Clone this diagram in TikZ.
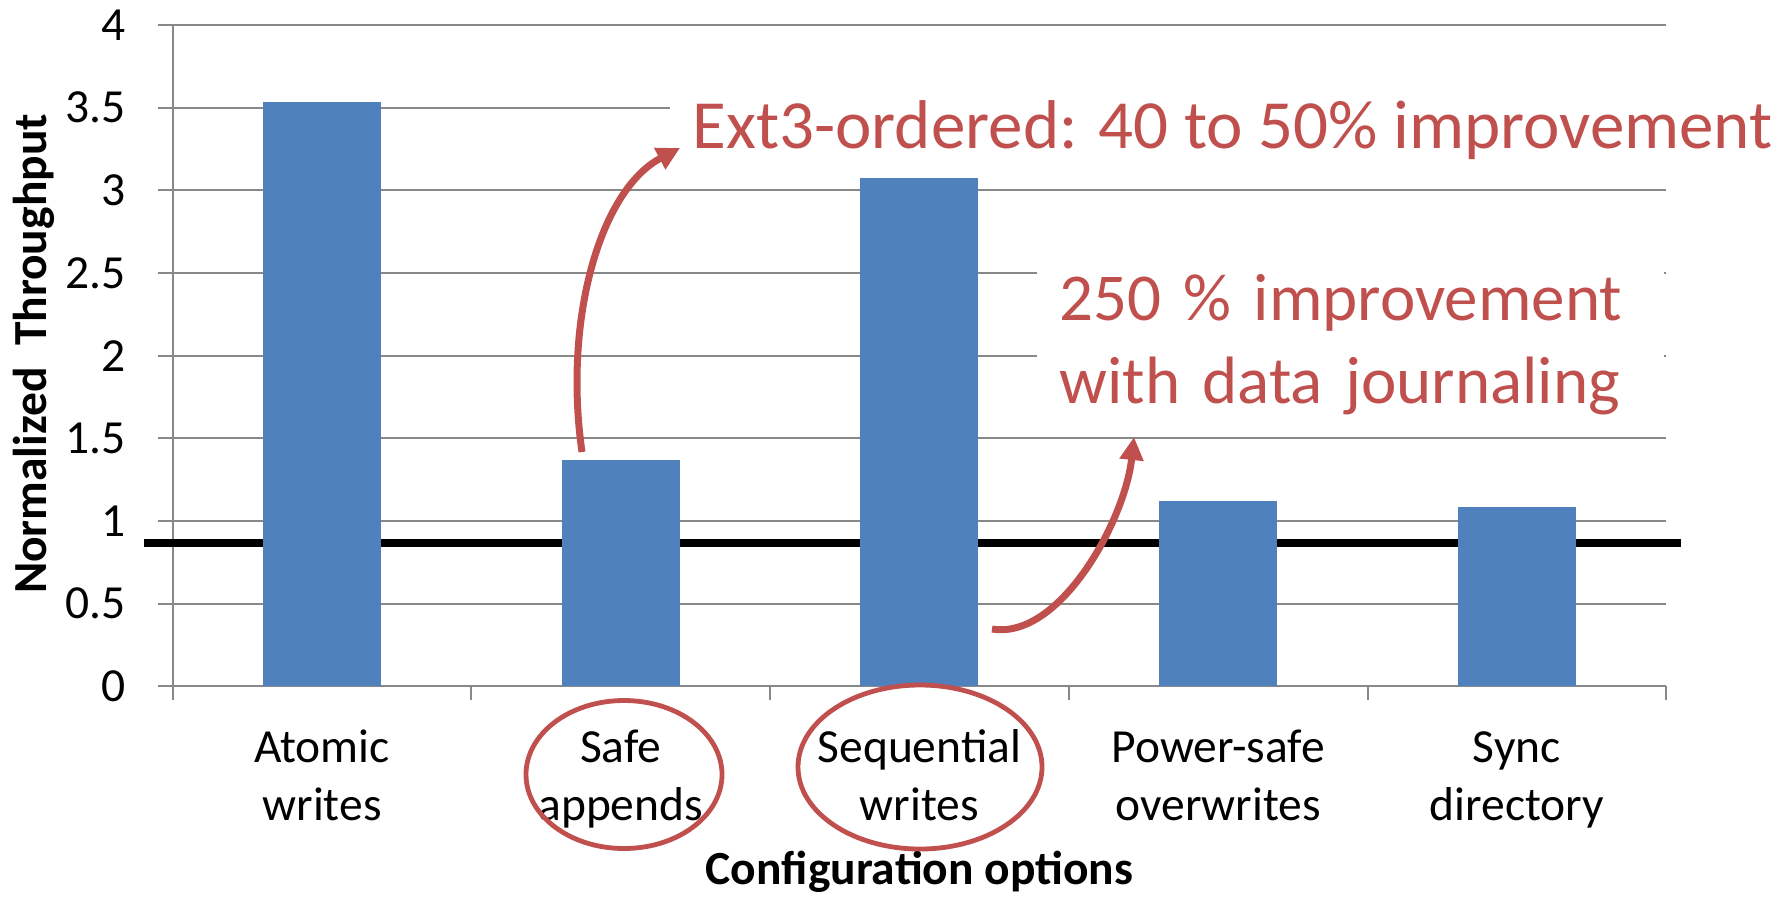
\documentclass[tikz,border=0pt]{standalone}
\usepackage{fontspec}
\setmainfont{Carlito}
\usepackage{tikz}
\usetikzlibrary{arrows.meta, shapes.geometric}
\usetikzlibrary{positioning}
\definecolor{barblue}{HTML}{4F81BD}
\definecolor{callred}{HTML}{C0504D}
\definecolor{gridgray}{HTML}{888888}
\tikzstyle{gridline} = [draw=gridgray, line width=1pt]
\tikzstyle{bar} = [rectangle, fill=barblue, inner sep=0, minimum width=59pt, anchor=south]
\tikzstyle{ticklabel} = [font=\fontsize{23.75}{29}\selectfont, anchor=east, inner sep=0]
\tikzstyle{catlabel} = [font=\fontsize{23.75}{29}\selectfont, align=center, inner sep=0, anchor=base]
\tikzstyle{axistitle} = [font=\fontsize{23.75}{29}\selectfont\bfseries, inner sep=0, anchor=base]
\tikzstyle{callout} = [font=\fontsize{33.5}{41.5}\selectfont, text=callred, fill=white, inner xsep=11pt, inner ysep=6pt, align=left]
\tikzstyle{arrow} = [draw=callred, line width=3.5pt, -{Triangle[length=11.5pt,width=11.5pt]}]
\tikzstyle{ring} = [ellipse, draw=callred, line width=2.4pt, inner sep=0]

\begin{document}
\begin{tikzpicture}[x=0.5pt, y=-0.5pt]
\useasboundingbox (0,0) rectangle (1781,896);
% grid and axes
\draw [gridline] (158,686.3) -- (1666.2,686.3);
\draw [gridline] (158,603.65) -- (1666.2,603.65);
\draw [gridline] (158,521.0) -- (1666.2,521.0);
\draw [gridline] (158,438.35) -- (1666.2,438.35);
\draw [gridline] (158,355.7) -- (1666.2,355.7);
\draw [gridline] (158,273.05) -- (1666.2,273.05);
\draw [gridline] (158,190.4) -- (1666.2,190.4);
\draw [gridline] (158,107.75) -- (1666.2,107.75);
\draw [gridline] (158,25.1) -- (1666.2,25.1);
\draw [gridline] (172.7,25.1) -- (172.7,700);
\draw [gridline] (471.4,686.3) -- (471.4,700);
\draw [gridline] (770.1,686.3) -- (770.1,700);
\draw [gridline] (1068.8,686.3) -- (1068.8,700);
\draw [gridline] (1367.5,686.3) -- (1367.5,700);
\draw [gridline] (1666.2,686.3) -- (1666.2,700);
\node (t0) [ticklabel] at (126,686.3) {0};
\node (t1) [ticklabel] at (126,603.65) {0.5};
\node (t2) [ticklabel] at (126,521.0) {1};
\node (t3) [ticklabel] at (126,438.35) {1.5};
\node (t4) [ticklabel] at (126,355.7) {2};
\node (t5) [ticklabel] at (126,273.05) {2.5};
\node (t6) [ticklabel] at (126,190.4) {3};
\node (t7) [ticklabel] at (126,107.75) {3.5};
\node (t8) [ticklabel] at (126,25.1) {4};
% baseline
\draw [line width=3.75pt] (144,543) -- (1681,543);
% bars
\node (b1) [bar, minimum height=3.53*82.65pt] at (322.05,686.3) {};
\node (b2) [bar, minimum height=1.367*82.65pt] at (620.75,686.3) {};
\node (b3) [bar, minimum height=3.073*82.65pt] at (919.45,686.3) {};
\node (b4) [bar, minimum height=1.121*82.65pt] at (1218.15,686.3) {};
\node (b5) [bar, minimum height=1.081*82.65pt] at (1516.85,686.3) {};
\node (l1) [catlabel] at ([yshift=-66.85pt]b1.south) {Atomic\\writes};
\node (l2) [catlabel] at ([yshift=-66.85pt]b2.south) {Safe\\appends};
\node (l3) [catlabel] at ([yshift=-66.85pt]b3.south) {Sequential\\writes};
\node (l4) [catlabel] at ([yshift=-66.85pt]b4.south) {Power-safe\\overwrites};
\node (l5) [catlabel] at ([yshift=-66.85pt]b5.south) {Sync\\directory};
\node (xt) [axistitle] at (919.5,884) {Configuration options};
\node (yt) [axistitle, rotate=90] at (46.7,354) {Normalized\ \ Throughput};
% callouts
\node (ext) [callout, anchor=base west, font=\fontsize{34.5}{41.5}\selectfont] at (670,148) {Ext3-ordered: 40 to 50\% improvement};
\node (jr) [callout, anchor=base west, text width=291.5pt] at (1037,320) {250 \% improvement\\with data journaling};
\coordinate (s1) at (582,452);
\coordinate (s2) at (992,629);
\coordinate (e2) at (1134,437);
\draw [arrow] (s1) .. controls (563,320) and (600,190) .. ([xshift=5pt]ext.base west);
\draw [arrow] (s2) .. controls (1060,640) and (1125,520) .. (e2);
% rings
\node (r2) [ring, minimum width=98pt, minimum height=74pt] at (624,774.5) {};
\node (r3) [ring, minimum width=122pt, minimum height=82pt] at (920,767) {};
\end{tikzpicture}
\end{document}
